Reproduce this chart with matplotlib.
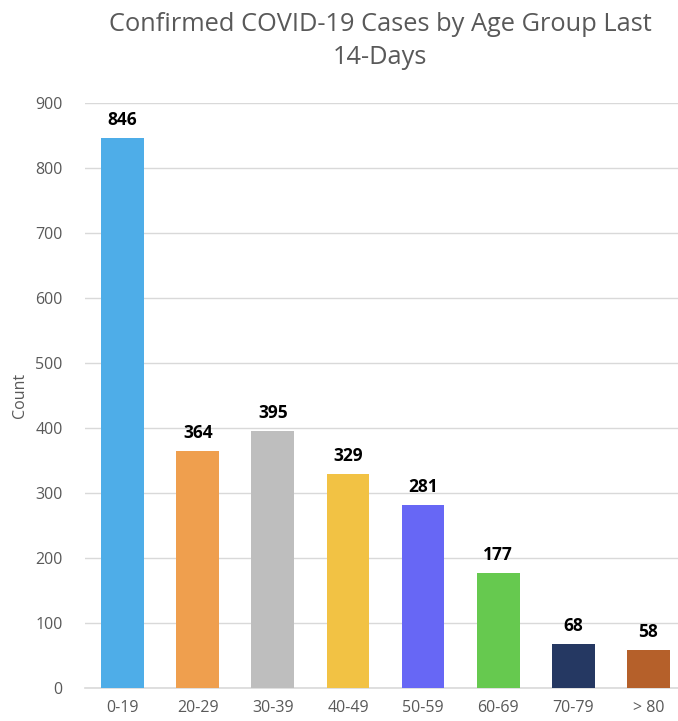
import matplotlib
matplotlib.use("Agg")
import matplotlib.pyplot as plt

AGES = ["0-19", "20-29", "30-39", "40-49", "50-59", "60-69", "70-79", "> 80"]
COUNTS = [846, 364, 395, 329, 281, 177, 68, 58]
COLORS = ["#4EADE8", "#EF9F4E", "#BEBEBE", "#F2C244", "#6767F5", "#66C94F", "#253862", "#B5602A"]
YTICKS = [0, 100, 200, 300, 400, 500, 600, 700, 800, 900]

plt.rcParams.update({"font.family": ["Open Sans", "DejaVu Sans"]})
GREY = "#595959"

fig = plt.figure(figsize=(6.78, 7.21), dpi=100)
ax = fig.add_axes([85 / 678, 33 / 721, 601 / 678, 585 / 721])
x = range(len(AGES))
ax.bar(x, COUNTS, width=0.57, color=COLORS, zorder=3)
for i, v in enumerate(COUNTS):
    ax.text(i, v + 14, f"{v}", ha="center", va="bottom", fontsize=12.5, fontweight="bold", color="black")

ax.set_xlim(-0.5, len(AGES) - 0.5)
ax.set_ylim(0, 900)
ax.set_yticks(YTICKS)
ax.set_xticks(list(x))
ax.set_xticklabels(AGES)
ax.tick_params(length=0, labelsize=11.5, labelcolor=GREY)
ax.tick_params(axis="x", pad=9)
ax.tick_params(axis="y", pad=16)
ax.grid(axis="y", color="#D9D9D9", lw=1.0, zorder=0)
for s in ["top", "right", "left"]:
    ax.spines[s].set_visible(False)
ax.spines["bottom"].set_color("#D9D9D9")
ax.spines["bottom"].set_linewidth(1.2)
ax.set_ylabel("Count", fontsize=11.5, color=GREY, labelpad=5)

fig.text(380 / 678, 1 - 41 / 721, "Confirmed COVID-19 Cases by Age Group Last\n14-Days",
         ha="center", va="center", fontsize=18.3, color=GREY, linespacing=1.4)

fig.savefig("out.png", dpi=100)
